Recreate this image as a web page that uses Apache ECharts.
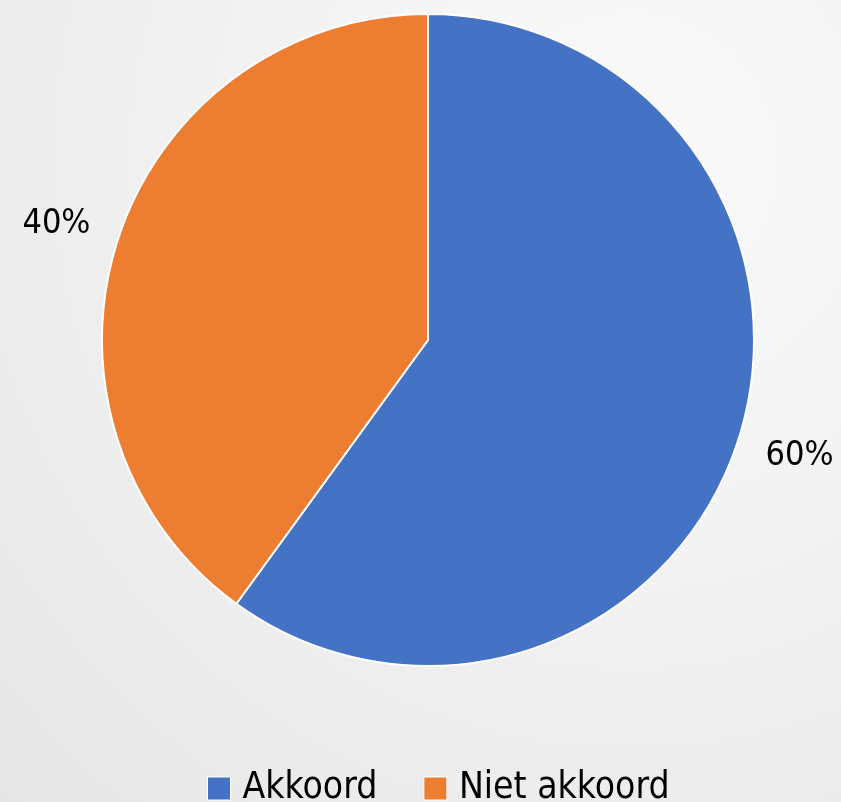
<!DOCTYPE html>
<html>
<head>
<meta charset="utf-8">
<script src="https://cdn.jsdelivr.net/npm/echarts@6/dist/echarts.min.js"></script>
<style>
  html, body {
    margin: 0;
    padding: 0;
  }
  body {
    width: 841px;
    height: 802px;
    background: radial-gradient(ellipse at 75% 20%, #fafafa 0%, #f2f2f2 45%, #e6e6e6 100%);
  }
  #chart {
    width: 841px;
    height: 802px;
  }
</style>
</head>
<body>
<div id="chart"></div>
<script>
const categories = ['Akkoord', 'Niet akkoord'];
const values = [60, 40];
const colors = ['#4472C4', '#ED7D31'];

const chart = echarts.init(document.getElementById('chart'));

const option = {
  backgroundColor: 'transparent',
  textStyle: {
    fontFamily: 'DejaVu Sans Condensed',
  },
  legend: {
    data: categories,
    bottom: -10,
    left: 202,
    icon: 'rect',
    itemWidth: 23,
    itemHeight: 23,
    itemGap: 46,
    itemStyle: {
      borderColor: '#fff',
      borderWidth: 1,
    },
    textStyle: {
      color: '#000',
      fontSize: 37,
      fontFamily: 'DejaVu Sans Condensed',
      padding: [0, 0, 0, 7],
    },
  },
  series: [
    {
      type: 'pie',
      center: [428, 340],
      radius: 326,
      startAngle: 90,
      clockwise: true,
      avoidLabelOverlap: false,
      itemStyle: {
        borderColor: '#fff',
        borderWidth: 2,
      },
      label: {
        show: true,
        position: 'outside',
        formatter: '{c}%',
        color: '#000',
        fontSize: 34,
        fontFamily: 'DejaVu Sans Condensed',
      },
      labelLine: {
        show: false,
        length: 50,
        length2: -25,
      },
      emphasis: { disabled: true },
      data: categories.map((name, i) => ({
        name: name,
        value: values[i],
        itemStyle: { color: colors[i] },
      })),
    },
  ],
};

chart.setOption(option);
</script>
</body>
</html>
